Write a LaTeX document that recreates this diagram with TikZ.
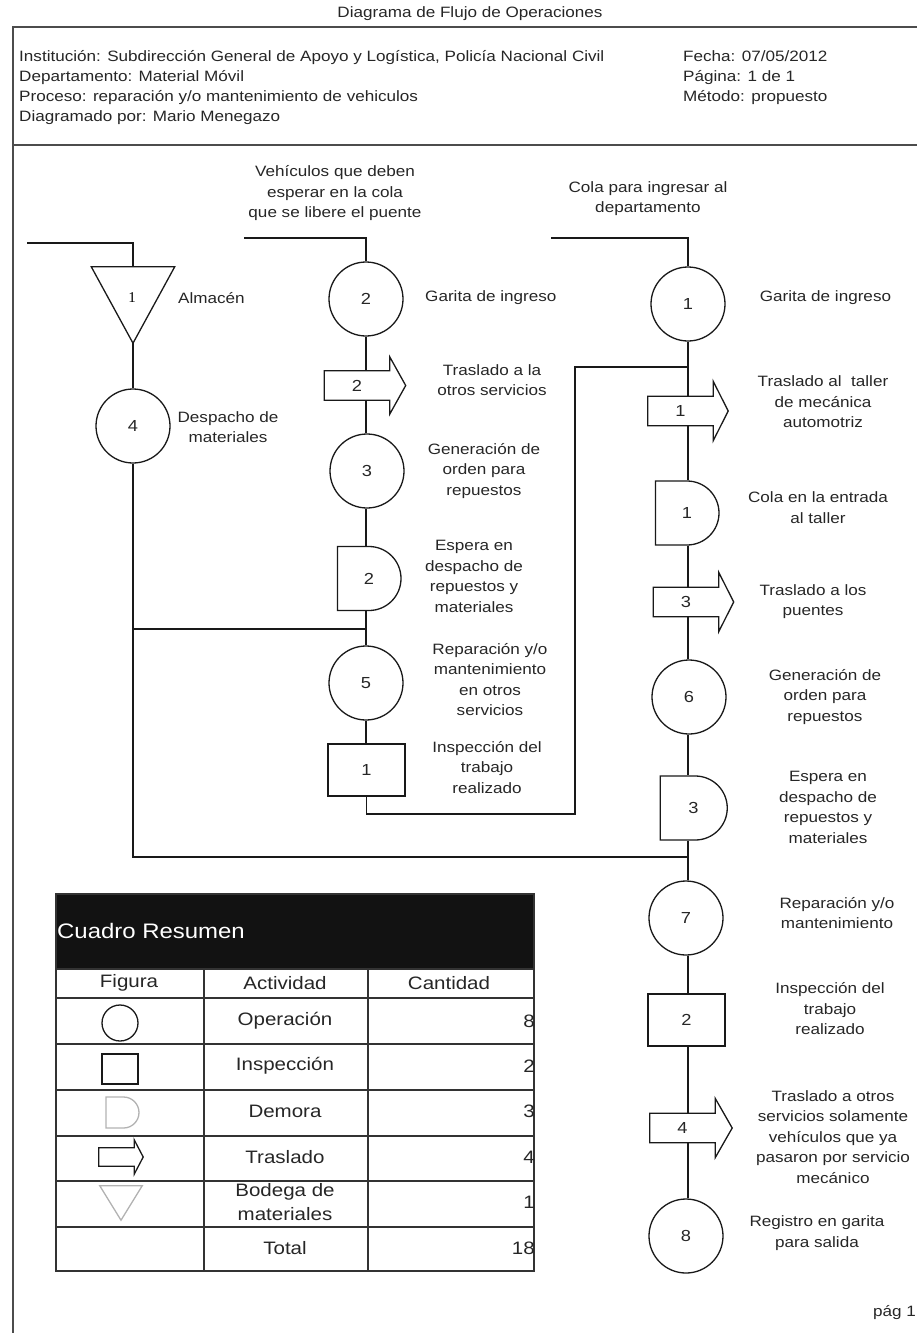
\documentclass[tikz,border=0pt]{standalone}
\usepackage{fontspec}
\setmainfont{Liberation Sans}[FakeStretch=1.14]
\newfontfamily\serifnum{Liberation Serif}
\usetikzlibrary{shapes.misc}

\begin{document}
\begin{tikzpicture}[x=1pt, y=-1pt,
  lin/.style={line width=1.3pt, draw=black!90},
  marco/.style={line width=2pt, draw=black!70},
  rejilla/.style={line width=1.8pt, draw=black!80},
  op/.style={lin, circle, minimum size=74pt, inner sep=0pt, text=black!85, font=\fontsize{16}{18}\selectfont},
  insp/.style={lin, rectangle, minimum width=77pt, minimum height=52pt, inner sep=0pt, text=black!85, font=\fontsize{16}{18}\selectfont},
  demora/.style={lin, rounded rectangle, rounded rectangle west arc=none, minimum width=62pt, minimum height=64pt, inner sep=0pt, text=black!85, font=\fontsize{16}{18}\selectfont},
  trasl/.style={rectangle, minimum width=65pt, minimum height=29pt, inner sep=0pt, text=black!85, font=\fontsize{16}{18}\selectfont},
  almac/.style={rectangle, minimum width=83pt, minimum height=76pt, inner sep=0pt},
  lbl/.style={align=center, inner sep=0pt, text=black!85, font=\fontsize{15}{20.5}\selectfont},
  celda/.style={align=center, inner sep=0pt, text=black!85, font=\fontsize{18}{24}\selectfont}]

\useasboundingbox (0,0) rectangle (917,1333);

\node[lbl] (titulo) at (470,14) {Diagrama de Flujo de Operaciones};
\draw[marco] (917,27) -- (12.5,27) -- (12.5,1333);
\draw[marco] (12.5,145) -- (917,145);
\node[lbl, align=left, anchor=west, font=\fontsize{15}{20}\selectfont] (datos) at (19,88) {Institución: Subdirección General de Apoyo y Logística, Policía Nacional Civil\\Departamento: Material Móvil\\Proceso: reparación y/o mantenimiento de vehiculos\\Diagramado por: Mario Menegazo};
\node[lbl, align=left, anchor=west, font=\fontsize{15}{20}\selectfont] (fecha) at (683,78) {Fecha: 07/05/2012\\Página: 1 de 1\\Método: propuesto};

\coordinate (colM) at (366,0);
\coordinate (colR) at (688,0);
\coordinate (inA) at (27,243);
\coordinate (inB) at (244,238);
\coordinate (inC) at (551,238);
\coordinate (jM) at (366,629);
\coordinate (retB) at (575,814);
\coordinate (jT) at (688,367);
\coordinate (jB) at (688,857);

% almacen
\node[almac] (alm) at (133,305) {};
\node[inner sep=0pt, font=\serifnum\fontsize{15}{17}\selectfont] (almnum) at (132,298) {1};
\node[op] (op4) at (133,426) {4};
\node[lbl, anchor=west] (lAlm) at (178,298) {Almacén};
\node[lbl] (lDesp) at (228,427) {Despacho de\\materiales};

% otros servicios
\node[lbl] (lColaB) at (335,193.5) {Vehículos que deben\\esperar en la cola\\que se libere el puente};
\node[op] (op2) at (366,299) {2};
\node[trasl] (tr2) at (357,385.5) {2};
\node[op] (op3) at (367,471) {3};
\node[demora] (de2) at (369,578.5) {2};
\node[op] (op5) at (366,683) {5};
\node[insp] (in1) at (366.5,770) {1};
\node[lbl, anchor=west] (lGarB) at (425,298) {Garita de ingreso};
\node[lbl] (lTrB) at (492,380) {Traslado a la\\otros servicios};
\node[lbl] (lGenB) at (484,471) {Generación de\\orden para\\repuestos};
\node[lbl] (lEspB) at (474,576.5) {Espera en\\despacho de\\repuestos y\\materiales};
\node[lbl] (lRepB) at (490,679.5) {Reparación y/o\\mantenimiento\\en otros\\servicios};
\node[lbl] (lInsB) at (487,767.5) {Inspección del\\trabajo\\realizado};

% taller
\node[lbl] (lColaC) at (648,198.5) {Cola para ingresar al\\departamento};
\node[op] (op1) at (688,304) {1};
\node[trasl] (tr1) at (680.5,411) {1};
\node[demora] (de1) at (687,513) {1};
\node[trasl] (tr3) at (686,602) {3};
\node[op] (op6) at (689,697) {6};
\node[demora, minimum width=67pt] (de3) at (693.5,808) {3};
\node[op] (op7) at (686,918) {7};
\node[insp] (in2) at (686.5,1020) {2};
\node[trasl] (tr4) at (682.5,1128) {4};
\node[op] (op8) at (686,1236) {8};
\node[lbl] (lGarC) at (825.5,298) {Garita de ingreso};
\node[lbl] (lTrC1) at (823,402) {Traslado al\ \ taller\\de mecánica\\automotriz};
\node[lbl] (lColC) at (818,507.5) {Cola en la entrada\\al taller};
\node[lbl] (lTrC3) at (813,601.5) {Traslado a los\\puentes};
\node[lbl] (lGenC) at (825,697) {Generación de\\orden para\\repuestos};
\node[lbl] (lEspC) at (828,807.5) {Espera en\\despacho de\\repuestos y\\materiales};
\node[lbl] (lRepC) at (837,913) {Reparación y/o\\mantenimiento};
\node[lbl] (lInsC) at (830,1009) {Inspección del\\trabajo\\realizado};
\node[lbl] (lTrC4) at (833,1137) {Traslado a otros\\servicios solamente\\vehículos que ya\\pasaron por servicio\\mecánico};
\node[lbl] (lRegC) at (817,1233) {Registro en garita\\para salida};
\node[lbl, anchor=east] (pag) at (916,1313) {pág 1};

% cuadro resumen
\fill[black!93] (56,894) rectangle (534,969);
\node[celda, anchor=west, text=white, font=\fontsize{21}{24}\selectfont] (cuadro) at (57,931) {Cuadro Resumen};
\draw[rejilla] (56,894) rectangle (534,1271);
\foreach \y in {969,998,1044,1090,1136,1181,1227}
  \draw[rejilla] (56,\y) -- (534,\y);
\foreach \x in {204,368}
  \draw[rejilla] (\x,969) -- (\x,1271);
\node[celda] (hFig) at (129,983) {Figura};
\node[celda] (hAct) at (285,983) {Actividad};
\node[celda] (hCant) at (449,983) {Cantidad};
\node[celda] (aOp) at (285,1021) {Operación};
\node[celda] (aIn) at (285,1066) {Inspección};
\node[celda] (aDe) at (285,1111) {Demora};
\node[celda] (aTr) at (285,1157) {Traslado};
\node[celda] (aAl) at (285,1202.5) {Bodega de\\materiales};
\node[celda] (aTot) at (285,1248) {Total};
\node[celda, anchor=east] (cOp) at (535,1021) {8};
\node[celda, anchor=east] (cIn) at (535,1066) {2};
\node[celda, anchor=east] (cDe) at (535,1111) {3};
\node[celda, anchor=east] (cTr) at (535,1157) {4};
\node[celda, anchor=east] (cAl) at (535,1202) {1};
\node[celda, anchor=east] (cTot) at (535,1248) {18};
\node[op, minimum size=36pt] (iOp) at (120,1023) {};
\node[insp, minimum width=36pt, minimum height=30pt] (iIn) at (120,1069) {};
\node[demora, draw=black!30, minimum width=33pt, minimum height=31pt] (iDe) at (122.5,1112.5) {};
\node[trasl, minimum width=35pt, minimum height=18pt] (iTr) at (116.5,1157) {};
\node[almac, minimum width=42pt, minimum height=34pt] (iAl) at (121,1203) {};

% figuras
\draw[lin] (alm.north west) -- (alm.north east) -- (alm.south) -- cycle;
\draw[lin, draw=black!30] (iAl.north west) -- (iAl.north east) -- (iAl.south) -- cycle;
\foreach \n/\e/\t in {tr1/15/15, tr2/14/16, tr3/15/15, tr4/15/17, iTr/8/9}
  \draw[lin] (\n.north west) -- (\n.north east) -- ([yshift=\e pt]\n.north east) -- ([xshift=\t pt]\n.east) -- ([yshift=-\e pt]\n.south east) -- (\n.south east) -- (\n.south west) -- cycle;

% conexiones
\draw[lin] (inA) -| (alm.north);
\draw[lin] (alm.south) -- (op4.north);
\draw[lin] (op4.south) |- (jB);
\draw[lin] (op4.south |- jM) -- (jM);
\draw[lin] (inB) -| (op2.north);
\foreach \a/\b in {op2/tr2, tr2/op3, op3/de2, de2/op5, op5/in1}
  \draw[lin] (\a.south -| colM) -- (\b.north -| colM);
\draw[lin] (in1.south) |- (retB) |- (jT);
\draw[lin] (inC) -| (op1.north);
\foreach \a/\b in {op1/tr1, tr1/de1, de1/tr3, tr3/op6, op6/de3, de3/op7, op7/in2, in2/tr4, tr4/op8}
  \draw[lin] (\a.south -| colR) -- (\b.north -| colR);
\end{tikzpicture}
\end{document}
